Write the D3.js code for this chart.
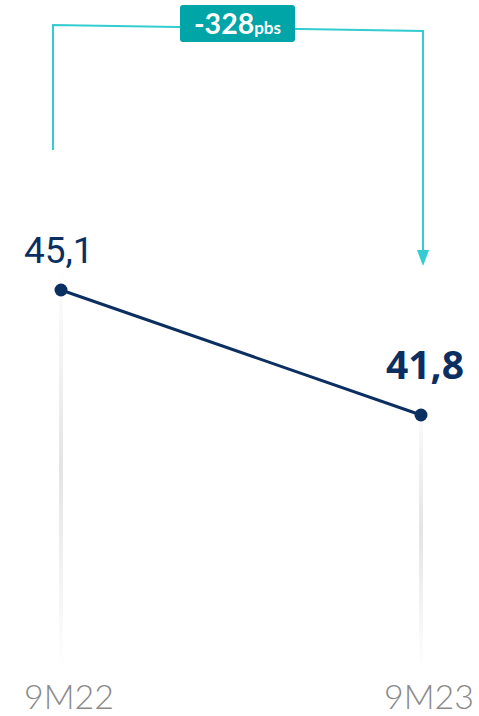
<!DOCTYPE html>
<html>
<head>
<meta charset="utf-8">
<script src="https://cdn.jsdelivr.net/npm/d3@7"></script>
<style>
  html, body { margin: 0; padding: 0; background: #fff; }
  svg { display: block; }
</style>
</head>
<body>
<svg width="479" height="716"></svg>
<script>
const periodos = ['9M22', '9M23'];
const valores = [45.1, 41.8];
const rotulos = ['45,1', '41,8'];
const variacao = '-328';
const unidade = 'pbs';

const svg = d3.select('svg');
const largura = +svg.attr('width');
const altura = +svg.attr('height');

const azul = '#0c2f62';
const turquesa = '#33ccd0';
const caixa = '#00a5a7';

const xEscala = d3.scalePoint()
    .domain(periodos)
    .range([61, 421]);

const yEscala = d3.scaleLinear()
    .domain([40, 46])
    .range([483.2, 255.9]);

// gradiente das linhas verticais cinzas
const defs = svg.append('defs');
const grad = defs.append('linearGradient')
    .attr('id', 'cinza')
    .attr('x1', 0).attr('y1', 0).attr('x2', 0).attr('y2', 1);
grad.append('stop').attr('offset', '0%').attr('stop-color', '#e4e4e4').attr('stop-opacity', 0);
grad.append('stop').attr('offset', '50%').attr('stop-color', '#e4e4e4').attr('stop-opacity', 1);
grad.append('stop').attr('offset', '100%').attr('stop-color', '#e4e4e4').attr('stop-opacity', 0);

const dados = periodos.map((p, i) => ({ p, v: valores[i], r: rotulos[i] }));
const base = 668;

svg.selectAll('rect.guia').data(dados)
    .enter().append('rect')
        .attr('class', 'guia')
        .attr('x', d => xEscala(d.p) - 2)
        .attr('y', d => yEscala(d.v) - 22)
        .attr('width', 4)
        .attr('height', d => base - yEscala(d.v) + 22)
        .attr('fill', 'url(#cinza)');

// linha
svg.append('path')
    .datum(dados)
    .attr('fill', 'none')
    .attr('stroke', azul)
    .attr('stroke-width', 3)
    .attr('d', d3.line().x(d => xEscala(d.p)).y(d => yEscala(d.v)));

svg.selectAll('circle').data(dados)
    .enter().append('circle')
        .attr('cx', d => xEscala(d.p))
        .attr('cy', d => yEscala(d.v))
        .attr('r', 6.5)
        .attr('fill', azul);

// rotulos dos valores
svg.append('text')
    .attr('x', xEscala(periodos[0]) - 37)
    .attr('y', yEscala(valores[0]) - 27)
    .attr('font-family', 'Roboto, sans-serif')
    .attr('font-size', 37)
    .attr('fill', azul)
    .text(rotulos[0]);

svg.append('text')
    .attr('x', xEscala(periodos[1]) - 35)
    .attr('y', yEscala(valores[1]) - 36)
    .attr('font-family', '"Open Sans", sans-serif')
    .attr('font-weight', 700)
    .attr('font-size', 39)
    .attr('fill', azul)
    .text(rotulos[1]);

// rotulos do eixo x
svg.selectAll('text.eixo').data(periodos)
    .enter().append('text')
        .attr('class', 'eixo')
        .attr('x', d => xEscala(d) + 8)
        .attr('y', 709)
        .attr('text-anchor', 'middle')
        .attr('font-family', 'Lato, sans-serif')
        .attr('font-weight', 300)
        .attr('font-size', 34)
        .attr('fill', '#8a8a8a')
        .text(d => d);

// colchete da variacao
const xa = xEscala(periodos[0]) - 8;
const xb = xEscala(periodos[1]) + 2;
svg.append('path')
    .attr('fill', 'none')
    .attr('stroke', turquesa)
    .attr('stroke-width', 2)
    .attr('d', `M${xa},150 L${xa},25 L${xb},31 L${xb},252`);

svg.append('path')
    .attr('fill', turquesa)
    .attr('d', `M${xb - 6},250 L${xb + 6},250 L${xb},266 Z`);

const cx = (xa + xb) / 2 - 0.5;
svg.append('rect')
    .attr('x', cx - 57.5)
    .attr('y', 5)
    .attr('width', 115)
    .attr('height', 37)
    .attr('rx', 3)
    .attr('fill', caixa);

const t = svg.append('text')
    .attr('x', cx)
    .attr('y', 34)
    .attr('text-anchor', 'middle')
    .attr('font-family', 'Lato, sans-serif')
    .attr('font-weight', 700)
    .attr('fill', '#fff');
t.append('tspan').attr('font-size', 28.5).text(variacao);
t.append('tspan').attr('font-size', 17).text(unidade);
</script>
</body>
</html>
